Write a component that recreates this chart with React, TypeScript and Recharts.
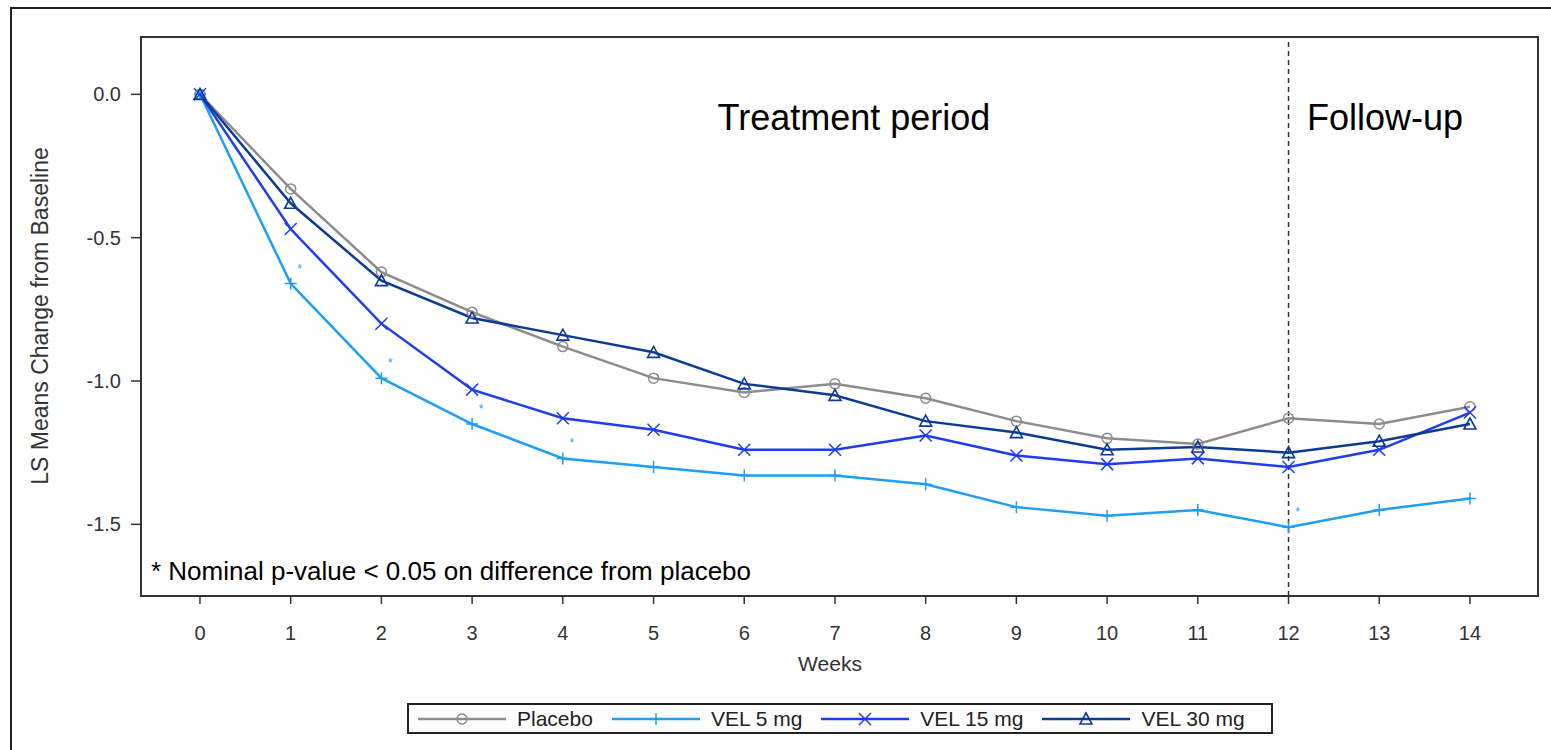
import React from 'react';
import { LineChart, Line, XAxis, YAxis, ReferenceLine, ReferenceArea, LabelList } from 'recharts';

// semaines et moyennes LS
const weeks = [0, 1, 2, 3, 4, 5, 6, 7, 8, 9, 10, 11, 12, 13, 14];
const placebo = [0, -0.33, -0.62, -0.76, -0.88, -0.99, -1.04, -1.01, -1.06, -1.14, -1.2, -1.22, -1.13, -1.15, -1.09];
const vel5 = [0, -0.66, -0.99, -1.15, -1.27, -1.3, -1.33, -1.33, -1.36, -1.44, -1.47, -1.45, -1.51, -1.45, -1.41];
const vel15 = [0, -0.47, -0.8, -1.03, -1.13, -1.17, -1.24, -1.24, -1.19, -1.26, -1.29, -1.27, -1.3, -1.24, -1.11];
const vel30 = [0, -0.38, -0.65, -0.78, -0.84, -0.9, -1.01, -1.05, -1.14, -1.18, -1.24, -1.23, -1.25, -1.21, -1.15];
// * = p nominale < 0.05 (VEL 5 mg)
const sig5 = [false, true, true, true, true, false, false, false, false, false, false, false, true, false, false];

const yTicks = [0, -0.5, -1, -1.5];
const xTicks = weeks;
const xDomain = [-0.65, 14.75];
const yDomain = [-1.75, 0.2];

const rows = weeks.map((w, i) => ({
  week: w,
  placebo: placebo[i],
  vel5: vel5[i],
  vel15: vel15[i],
  vel30: vel30[i],
  sig5: sig5[i] ? '*' : '',
}));

const FONT = '"Liberation Sans", Arial, sans-serif';

const series = [
  { key: 'placebo', name: 'Placebo', color: '#8c8c8c', shape: 'circle' },
  { key: 'vel5', name: 'VEL 5 mg', color: '#1e9ef5', shape: 'plus' },
  { key: 'vel15', name: 'VEL 15 mg', color: '#1f3cf2', shape: 'cross' },
  { key: 'vel30', name: 'VEL 30 mg', color: '#0c3b96', shape: 'triangle' },
];

function Marker({ cx, cy, shape, color }: { cx: number; cy: number; shape: string; color: string }) {
  const s = 6;
  if (shape === 'circle') return <circle cx={cx} cy={cy} r={5} fill="none" stroke={color} strokeWidth={1.5} />;
  if (shape === 'plus')
    return (
      <path d={`M${cx - s},${cy}H${cx + s}M${cx},${cy - s}V${cy + s}`} stroke={color} strokeWidth={1.5} fill="none" />
    );
  if (shape === 'cross')
    return (
      <path
        d={`M${cx - s},${cy - s}L${cx + s},${cy + s}M${cx - s},${cy + s}L${cx + s},${cy - s}`}
        stroke={color}
        strokeWidth={1.5}
        fill="none"
      />
    );
  return (
    <path
      d={`M${cx},${cy - s}L${cx + s},${cy + s - 1}L${cx - s},${cy + s - 1}Z`}
      stroke={color}
      strokeWidth={1.6}
      fill="none"
    />
  );
}

const makeDot = (shape: string, color: string) => (props: any) => {
  const { cx, cy, index } = props;
  if (cx == null || cy == null) return <g key={`${shape}-${index}`} />;
  return (
    <g key={`${shape}-${index}`}>
      <Marker cx={cx} cy={cy} shape={shape} color={color} />
    </g>
  );
};

const Star = (props: any) => {
  const { x, y, value } = props;
  if (!value) return null;
  return (
    <text x={x + 9} y={y - 11} fontSize={12} fill="#1e9ef5" textAnchor="middle" fontFamily={FONT}>
      {value}
    </text>
  );
};

export default function App() {
  return (
    <div style={{ position: 'absolute', left: 0, top: 0, width: 1551, height: 750, background: '#fff' }}>
      {/* cadre extérieur */}
      <div
        style={{
          position: 'absolute',
          left: 10,
          top: 7,
          right: 0,
          bottom: 0,
          borderTop: '2px solid #222',
          borderLeft: '2px solid #222',
        }}
      />
      <LineChart
        width={1551}
        height={750}
        data={rows}
        margin={{ top: 37, right: 13, bottom: 94, left: 61 }}
        style={{ position: 'absolute', left: 0, top: 0 }}
      >
        <XAxis
          dataKey="week"
          type="number"
          domain={xDomain}
          ticks={xTicks}
          interval={0}
          height={60}
          tickSize={8}
          tickMargin={22}
          axisLine={{ stroke: '#333', strokeWidth: 2 }}
          tickLine={{ stroke: '#333', strokeWidth: 1.5 }}
          tick={{ fill: '#333', fontSize: 20, fontFamily: FONT }}
        />
        <YAxis
          type="number"
          domain={yDomain}
          ticks={yTicks}
          interval={0}
          width={80}
          tickSize={10}
          tickMargin={10}
          tickFormatter={(v: number) => v.toFixed(1)}
          axisLine={{ stroke: '#333', strokeWidth: 2 }}
          tickLine={{ stroke: '#333', strokeWidth: 1.5 }}
          tick={{ fill: '#333', fontSize: 20, fontFamily: FONT }}
        />
        {/* bordure de la zone de tracé */}
        <ReferenceArea
          x1={xDomain[0]}
          x2={xDomain[1]}
          y1={yDomain[0]}
          y2={yDomain[1]}
          fill="none"
          fillOpacity={0}
          stroke="#333"
          strokeWidth={2}
          ifOverflow="extendDomain"
        />
        <ReferenceLine x={12} stroke="#333" strokeWidth={1.5} strokeDasharray="5 4" />
        {series.map((s) => (
          <Line
            key={s.key}
            dataKey={s.key}
            name={s.name}
            stroke={s.color}
            strokeWidth={2.5}
            type="linear"
            isAnimationActive={false}
            dot={makeDot(s.shape, s.color)}
            activeDot={false}
          >
            {s.key === 'vel5' && <LabelList dataKey="sig5" content={Star} />}
          </Line>
        ))}
      </LineChart>

      {/* textes */}
      <svg width={1551} height={750} style={{ position: 'absolute', left: 0, top: 0, pointerEvents: 'none' }}>
        <text x={854} y={130} fontSize={36} textAnchor="middle" fontFamily={FONT} fill="#000">
          Treatment period
        </text>
        <text x={1385} y={130} fontSize={36} textAnchor="middle" fontFamily={FONT} fill="#000">
          Follow-up
        </text>
        <text x={151} y={580} fontSize={26} fontFamily={FONT} fill="#000">
          * Nominal p-value &lt; 0.05 on difference from placebo
        </text>
        <text
          x={40}
          y={316}
          fontSize={23}
          textAnchor="middle"
          dominantBaseline="central"
          fontFamily={FONT}
          fill="#333"
          transform="rotate(-90 40 316)"
        >
          LS Means Change from Baseline
        </text>
        <text x={830} y={671} fontSize={21} textAnchor="middle" fontFamily={FONT} fill="#333">
          Weeks
        </text>
      </svg>

      {/* légende */}
      <div
        style={{
          position: 'absolute',
          left: 407,
          top: 703,
          width: 854,
          height: 27,
          border: '2px solid #222',
          display: 'flex',
          alignItems: 'center',
          paddingLeft: 8,
          fontFamily: FONT,
          fontSize: 21,
          color: '#222',
        }}
      >
        {series.map((s) => (
          <div key={s.key} style={{ display: 'flex', alignItems: 'center', marginRight: 18 }}>
            <svg width={90} height={20} style={{ marginRight: 10 }}>
              <line x1={1} y1={10} x2={89} y2={10} stroke={s.color} strokeWidth={2.5} />
              <Marker cx={45} cy={10} shape={s.shape} color={s.color} />
            </svg>
            <span>{s.name}</span>
          </div>
        ))}
      </div>
    </div>
  );
}
